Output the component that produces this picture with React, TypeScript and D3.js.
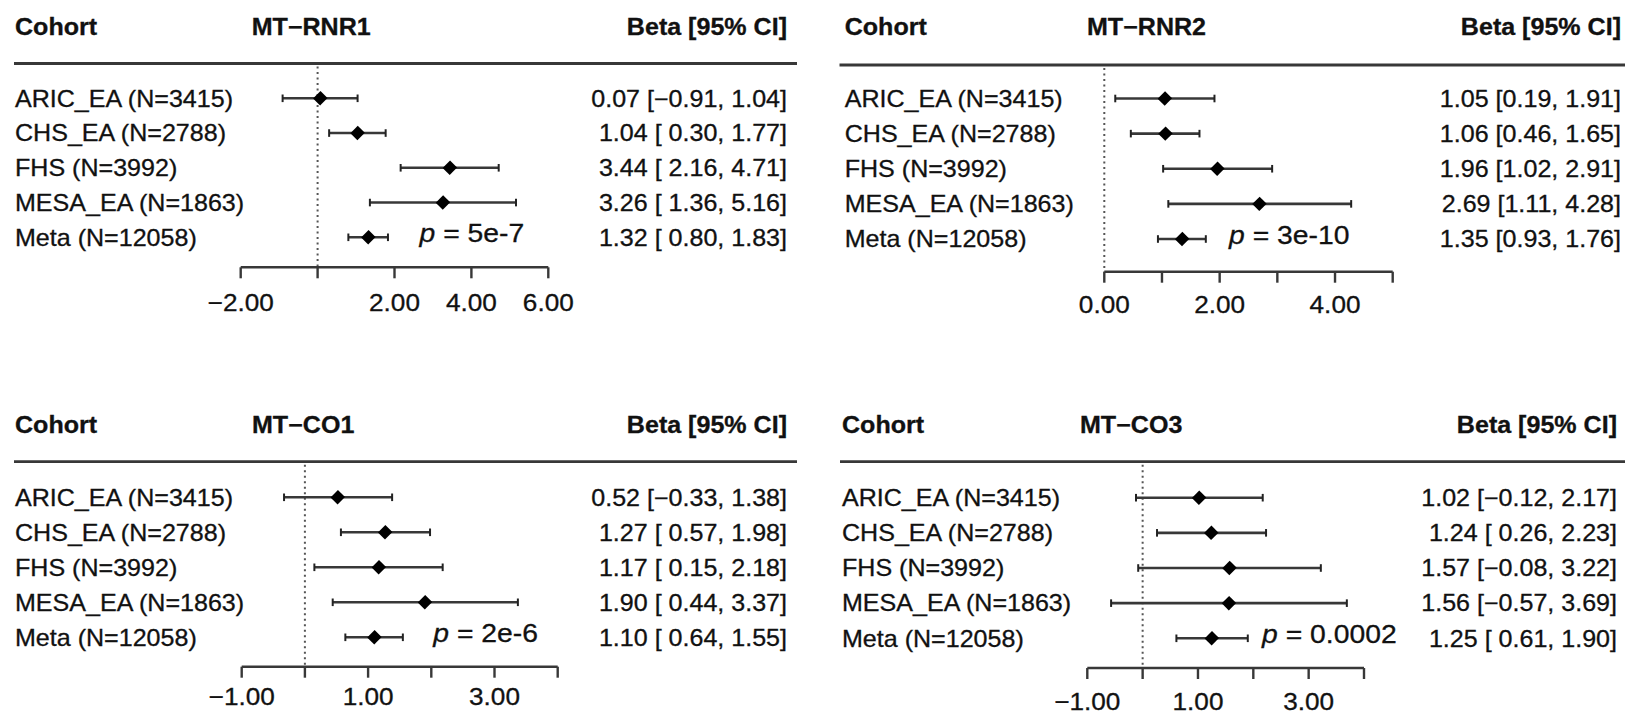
import * as d3 from 'd3'

// cohorts (rows, top to bottom)
const cohorts = [
  'ARIC_EA (N=3415)',
  'CHS_EA (N=2788)',
  'FHS (N=3992)',
  'MESA_EA (N=1863)',
  'Meta (N=12058)'
]

const genes = ['MT−RNR1', 'MT−RNR2', 'MT−CO1', 'MT−CO3']

// beta, lower, upper per gene
const betaRNR1 = [0.07, 1.04, 3.44, 3.26, 1.32]
const lowerRNR1 = [-0.91, 0.30, 2.16, 1.36, 0.80]
const upperRNR1 = [1.04, 1.77, 4.71, 5.16, 1.83]

const betaRNR2 = [1.05, 1.06, 1.96, 2.69, 1.35]
const lowerRNR2 = [0.19, 0.46, 1.02, 1.11, 0.93]
const upperRNR2 = [1.91, 1.65, 2.91, 4.28, 1.76]

const betaCO1 = [0.52, 1.27, 1.17, 1.90, 1.10]
const lowerCO1 = [-0.33, 0.57, 0.15, 0.44, 0.64]
const upperCO1 = [1.38, 1.98, 2.18, 3.37, 1.55]

const betaCO3 = [1.02, 1.24, 1.57, 1.56, 1.25]
const lowerCO3 = [-0.12, 0.26, -0.08, -0.57, 0.61]
const upperCO3 = [2.17, 2.23, 3.22, 3.69, 1.90]

const pValues = ['5e-7', '3e-10', '2e-6', '0.0002']

// axis extents, tick marks and labelled ticks
const domains: [number, number][] = [[-2, 6], [0, 5], [-1, 4], [-1, 4]]
const tickValues = [[-2, 0, 2, 4, 6], [0, 1, 2, 3, 4, 5], [-1, 0, 1, 2, 3, 4], [-1, 0, 1, 2, 3, 4]]
const tickLabels = [[-2, 2, 4, 6], [0, 2, 4], [-1, 1, 3], [-1, 1, 3]]

const series = [
  { beta: betaRNR1, lo: lowerRNR1, hi: upperRNR1 },
  { beta: betaRNR2, lo: lowerRNR2, hi: upperRNR2 },
  { beta: betaCO1, lo: lowerCO1, hi: upperCO1 },
  { beta: betaCO3, lo: lowerCO3, hi: upperCO3 }
]

// panel placement on the page
const layout = [
  { left: 15, right: 787, range: [240.7, 548.3], rows: [98.3, 237.3], headY: 35, lineY: 63.5, lineX: [14, 797], axisY: 267.3, labY: 311, geneX: 251.7, pX: 419.5 },
  { left: 844.7, right: 1621, range: [1104.3, 1392.7], rows: [98.5, 239], headY: 35, lineY: 65, lineX: [839.5, 1625], axisY: 271.7, labY: 313, geneX: 1087, pX: 1229 },
  { left: 15, right: 787, range: [241.7, 557.7], rows: [497.3, 637.3], headY: 433, lineY: 461.7, lineX: [14, 797], axisY: 666.7, labY: 705, geneX: 252, pX: 433.3 },
  { left: 842, right: 1617, range: [1087.3, 1364], rows: [497.7, 638.3], headY: 433, lineY: 461.7, lineX: [840, 1625], axisY: 668, labY: 710, geneX: 1080, pX: 1262 }
]

const FONT = '"Liberation Sans", Arial, Helvetica, sans-serif'
const SX = 1.09
const FS = 23
const INK = '#111'
const LINE = '#383838'

const fmt = (v: number) => (v < 0 ? '−' : '') + Math.abs(v).toFixed(2)

function T({ x, y, anchor = 'start', bold = false, size = FS, children }: any) {
  return (
    <text
      transform={`translate(${x},${y}) scale(${SX},1)`}
      textAnchor={anchor}
      fontFamily={FONT}
      fontSize={size}
      fontWeight={bold ? 'bold' : 'normal'}
      fill={INK}
      stroke={INK}
      strokeWidth={0.3}
    >
      {children}
    </text>
  )
}

function Panel({ i }: { i: number }) {
  const L = layout[i]
  const s = series[i]
  const x = d3.scaleLinear().domain(domains[i]).range(L.range as [number, number])
  const y = d3.scalePoint<string>().domain(cohorts).range(L.rows as [number, number])
  const anyNeg = s.lo.some(v => v < 0)
  const diamond = d3.symbol().type(d3.symbolSquare).size(100)()
  const x0 = x(0)

  return (
    <g>
      <T x={L.left} y={L.headY} bold>Cohort</T>
      <T x={L.geneX} y={L.headY} bold>{genes[i]}</T>
      <T x={L.right} y={L.headY} anchor="end" bold>Beta [95% CI]</T>
      <line x1={L.lineX[0]} x2={L.lineX[1]} y1={L.lineY} y2={L.lineY} stroke={LINE} strokeWidth={2.8} />

      <line x1={x0} x2={x0} y1={L.lineY + 3} y2={L.axisY} stroke="#555" strokeWidth={2} strokeDasharray="2,3.5" />

      {cohorts.map((c, k) => {
        const cy = y(c) as number
        const pad = anyNeg && s.lo[k] >= 0 ? ' ' : ''
        return (
          <g key={c}>
            <T x={L.left} y={cy + 8.3}>{c}</T>
            <line x1={x(s.lo[k])} x2={x(s.hi[k])} y1={cy} y2={cy} stroke={LINE} strokeWidth={2.6} />
            <line x1={x(s.lo[k])} x2={x(s.lo[k])} y1={cy - 3.8} y2={cy + 3.8} stroke="#222" strokeWidth={2} />
            <line x1={x(s.hi[k])} x2={x(s.hi[k])} y1={cy - 3.8} y2={cy + 3.8} stroke="#222" strokeWidth={2} />
            <path d={diamond as string} transform={`translate(${x(s.beta[k])},${cy}) rotate(45) scale(1,1.05)`} fill="#000" />
            <T x={L.right} y={cy + 8.3} anchor="end">
              {`${fmt(s.beta[k])} [${pad}${fmt(s.lo[k])}, ${fmt(s.hi[k])}]`}
            </T>
          </g>
        )
      })}

      <T x={L.pX} y={(y(cohorts[4]) as number) + 4.7} size={26}>
        <tspan fontStyle="italic">p</tspan>{` = ${pValues[i]}`}
      </T>

      <line x1={x(domains[i][0])} x2={x(domains[i][1])} y1={L.axisY} y2={L.axisY} stroke={LINE} strokeWidth={2.6} />
      {tickValues[i].map(t => (
        <line key={t} x1={x(t)} x2={x(t)} y1={L.axisY} y2={L.axisY + 11} stroke={LINE} strokeWidth={2.4} />
      ))}
      {tickLabels[i].map(t => (
        <T key={t} x={x(t)} y={L.labY} anchor="middle" size={24}>{fmt(t)}</T>
      ))}
    </g>
  )
}

export default function App() {
  return (
    <>
      <style>{'body{margin:0;background:#fff}'}</style>
      <svg width={1625} height={712} style={{ display: 'block', background: '#fff' }}>
        {genes.map((g, i) => <Panel key={g} i={i} />)}
      </svg>
    </>
  )
}
